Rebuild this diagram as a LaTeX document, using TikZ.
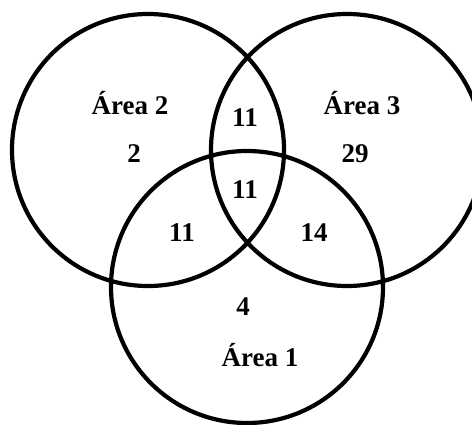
\documentclass[tikz,border=0pt]{standalone}
\usepackage{fontspec}
\setmainfont{Liberation Serif}
\usepackage{tikz}
\usetikzlibrary{arrows.meta,shapes}

\begin{document}
\begin{tikzpicture}[x=1pt,y=-1pt,line width=4.2pt,
  every node/.style={font=\bfseries\fontsize{27}{31}\selectfont,anchor=base,inner sep=0pt}]
\useasboundingbox (0,0) rectangle (472,424);

\draw
(148,150)circle[radius=136pt]
(347,150)circle[radius=136pt]
(247,287)circle[radius=136pt];

\node (area2) at (130,114) {Área 2};
\node (n2) at (134,162) {2};
\node (area3) at (362,114) {Área 3};
\node (n29) at (355,162) {29};
\node (n23) at (245,126) {11};
\node (n123) at (245,198) {11};
\node (n12) at (182,241) {11};
\node (n13) at (314,241) {14};
\node (n1) at (243,315) {4};
\node (area1) at (260,366) {Área 1};
\end{tikzpicture}
\end{document}
